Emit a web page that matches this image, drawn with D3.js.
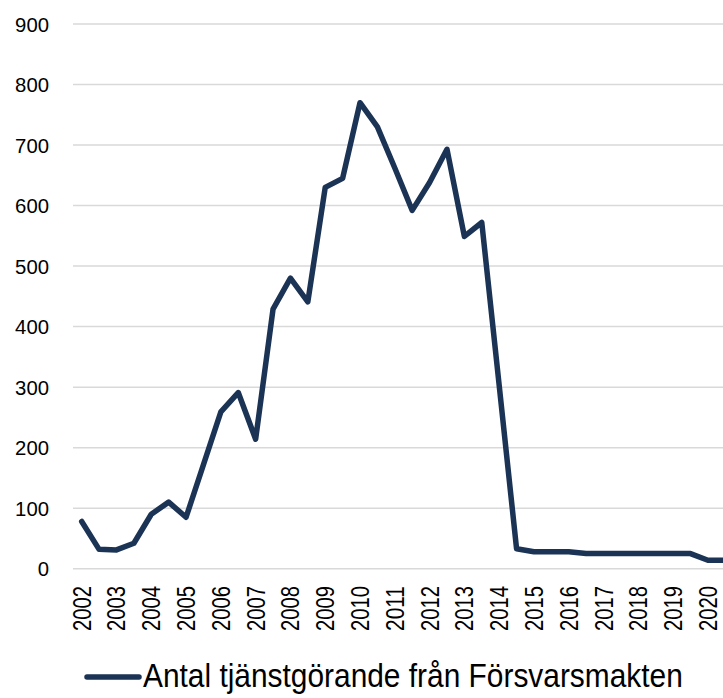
<!DOCTYPE html>
<html>
<head>
<meta charset="utf-8">
<script src="https://cdn.jsdelivr.net/npm/d3@7"></script>
<style>
  html, body { margin: 0; padding: 0; background: #fff; }
  svg { display: block; }
  text { font-family: "Liberation Sans", Arimo, Arial, sans-serif; }
  .narrow { font-family: "Liberation Sans Narrow", "Liberation Sans", Arial, sans-serif; }
</style>
</head>
<body>
<svg id="chart" width="723" height="698"></svg>
<script>
// Half-year periods 2002 H1 .. 2020 H2
const years = d3.range(2002, 2021);
const periods = years.flatMap(y => [y + " H1", y + " H2"]);
const tickLabels = years.map(String);
const seriesName = "Antal tjänstgörande från Försvarsmakten";
const values = [
  78, 32, 31, 42, 90, 110, 85, 172, 259, 291,
  214, 429, 480, 441, 630, 645, 770, 730, 662, 592,
  638, 693, 549, 572, 303, 33, 28, 28, 28, 25,
  25, 25, 25, 25, 25, 25, 14, 14
];
const yTicks = [0, 100, 200, 300, 400, 500, 600, 700, 800, 900];

const svg = d3.select("#chart");
const color = "#1b3354";

const x = d3.scaleBand().domain(periods).range([73, 734]).padding(0);
const cx = p => x(p) + x.bandwidth() / 2;
const y = d3.scaleLinear().domain([0, 900]).range([568.7, 24]);

// gridlines
svg.append("g").selectAll("line").data(yTicks).join("line")
  .attr("x1", 73).attr("x2", 734)
  .attr("y1", d => y(d)).attr("y2", d => y(d))
  .attr("stroke", "#d9d9d9").attr("stroke-width", 1.5);

// y axis labels
const yAxis = d3.axisLeft(y).tickValues(yTicks).tickSize(0).tickPadding(0);
const gy = svg.append("g").attr("transform", "translate(49,0)").call(yAxis);
gy.select(".domain").remove();
gy.selectAll("text")
  .attr("class", "narrow")
  .attr("font-size", 20).attr("fill", "#000")
  .attr("text-anchor", "end").attr("dy", "0.36em").attr("x", 0)
  .attr("textLength", d => String(d).length * 11.3)
  .attr("lengthAdjust", "spacingAndGlyphs");

// x axis labels (one per year, at H1 position)
const xAxis = d3.axisBottom(x)
  .tickValues(years.map(y => y + " H1"))
  .tickFormat((d, i) => tickLabels[i])
  .tickSize(0).tickPadding(0);
const gx = svg.append("g").attr("transform", "translate(0,586)").call(xAxis);
gx.select(".domain").remove();
gx.selectAll("text")
  .attr("class", "narrow")
  .attr("font-size", 25).attr("fill", "#000")
  .attr("text-anchor", "end")
  .attr("transform", "rotate(-90)")
  .attr("x", 0).attr("y", 0).attr("dy", "0.36em")
  .attr("textLength", 45)
  .attr("lengthAdjust", "spacingAndGlyphs");

// line
const line = d3.line().x((d, i) => cx(periods[i])).y(d => y(d));
svg.append("path").datum(values)
  .attr("d", line)
  .attr("fill", "none").attr("stroke", color)
  .attr("stroke-width", 5.5)
  .attr("stroke-linejoin", "round").attr("stroke-linecap", "round");

// legend (condensed by horizontal scaling)
const lg = svg.append("g");
lg.append("line").attr("x1", 87).attr("x2", 139).attr("y1", 677).attr("y2", 677)
  .attr("stroke", color).attr("stroke-width", 5.5).attr("stroke-linecap", "round");
const lt = lg.append("text")
  .attr("class", "narrow")
  .attr("font-size", 20).attr("fill", "#000")
  .attr("x", 0).attr("y", 0)
  .text(seriesName);
const natW = lt.node().getComputedTextLength();
const sx = 540 / natW, sy = 34 / 20;
lt.attr("transform", `translate(143,687) scale(${sx},${sy})`);
</script>
</body>
</html>
